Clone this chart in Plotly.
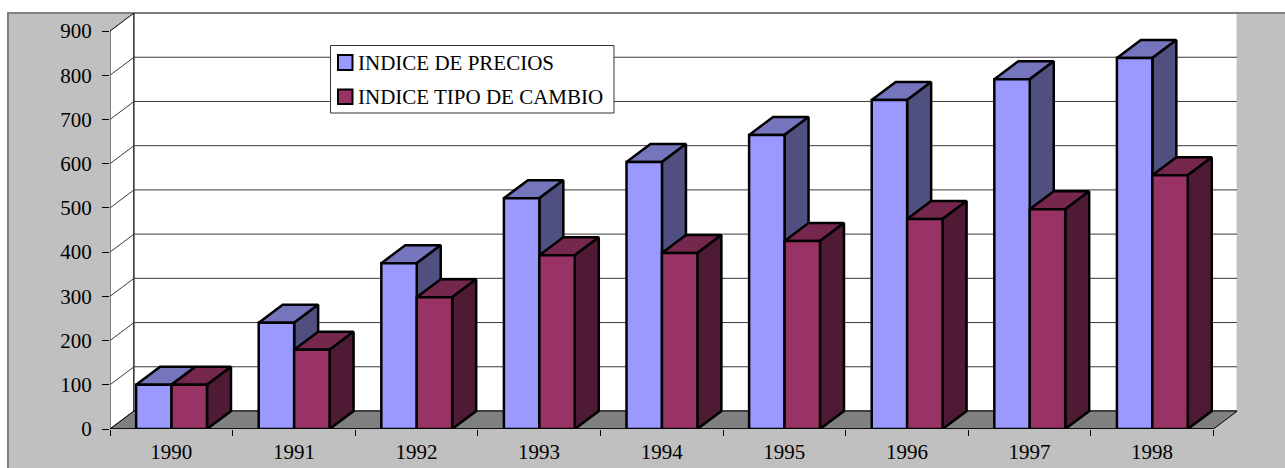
import plotly.graph_objects as go

years = ["1990","1991","1992","1993","1994","1995","1996","1997","1998"]
precios = [100,240,375,522,604,665,744,791,839]
cambio = [100,179,298,393,398,425,475,497,574]
names = ["INDICE DE PRECIOS","INDICE TIPO DE CAMBIO"]
yticks = [0,100,200,300,400,500,600,700,800,900]

FONT="Liberation Serif"
W,H=1285,468
L,R,T,B=110,48,13,39
UX=122.6; UY=0.4422
XMAX=(W-L-R)/UX; YMAX=(H-T-B)/UY
DX=24/UX; DY=18/UY
GAP=0.213; BW=0.289
N=len(years)
C1=("#9999FF","#7575BE","#4F4F80")
C2=("#993366","#75274E","#4E1A34")

fig=go.Figure()
def poly(xs,ys,fill=None,line="#000000",lw=1):
    fig.add_trace(go.Scatter(x=xs,y=ys,mode="lines",fill="toself" if fill else None,fillcolor=fill,
        line=dict(color=line,width=lw),showlegend=False,hoverinfo="skip",cliponaxis=False))

# walls and floor
top=yticks[-1]
poly([0,DX,DX,0,0],[0,DY,top+DY,top,0],"#FFFFFF","#000000",1)
poly([DX,N+DX,N+DX,DX,DX],[DY,DY,top+DY,top+DY,DY],"#FFFFFF","#000000",1)
poly([0,N,N+DX,DX,0],[0,0,DY,DY,0],"#808080","#000000",1)
for v in yticks[1:-1]:
    poly([0,DX,N+DX],[v,v+DY,v+DY],None,"#3A3A3A",1)
poly([0,N],[0,0],None,"#000000",1.5)

# sides and tops, back to front
for i in range(N):
    x0=i+GAP; x1=x0+BW; x2=x1+BW
    v1,v2=precios[i],cambio[i]
    poly([x0,x1,x1+DX,x0+DX,x0],[v1,v1,v1+DY,v1+DY,v1],C1[1],"#000000",2.5)
    poly([x1,x1+DX,x1+DX,x1,x1],[0,DY,v1+DY,v1,0],C1[2],"#000000",2.5)
    poly([x1,x2,x2+DX,x1+DX,x1],[v2,v2,v2+DY,v2+DY,v2],C2[1],"#000000",2.5)
    poly([x2,x2+DX,x2+DX,x2,x2],[0,DY,v2+DY,v2,0],C2[2],"#000000",2.5)

# front faces
for k,(vals,c,name) in enumerate(zip((precios,cambio),(C1,C2),names)):
    fig.add_trace(go.Bar(x=[i+GAP+BW*(k+0.5) for i in range(N)],y=vals,width=BW,name=name,
        marker=dict(color=c[0],line=dict(color="#000000",width=2.5)),
        xaxis="x2",yaxis="y2",showlegend=False,hoverinfo="skip"))

def px(x): return (x-L)/(W-L-R)
def py(y): return (H-B-y)/(H-T-B)
shapes=[
 dict(type="rect",xref="paper",yref="paper",x0=px(8),x1=px(W+5),y0=py(H+5),y1=py(13),
      fillcolor="#C0C0C0",line=dict(color="#808080",width=2),layer="below"),
 dict(type="rect",xref="paper",yref="paper",x0=px(330.5),x1=px(614),y0=py(113),y1=py(45.5),
      fillcolor="#FFFFFF",line=dict(color="#333333",width=1),layer="above"),
 dict(type="rect",xref="paper",yref="paper",x0=px(338),x1=px(352.5),y0=py(70),y1=py(55),
      fillcolor=C1[0],line=dict(color="#000000",width=2),layer="above"),
 dict(type="rect",xref="paper",yref="paper",x0=px(338),x1=px(352.5),y0=py(104),y1=py(89.5),
      fillcolor=C2[0],line=dict(color="#000000",width=2),layer="above"),
]
annotations=[
 dict(text=names[0],xref="paper",yref="paper",x=px(356),y=py(63),xanchor="left",yanchor="middle",showarrow=False,
      font=dict(family=FONT,size=21,color="#000000")),
 dict(text=names[1],xref="paper",yref="paper",x=px(356),y=py(97),xanchor="left",yanchor="middle",showarrow=False,
      font=dict(family=FONT,size=21,color="#000000")),
]
fig.update_layout(
    width=W,height=H,margin=dict(l=L,r=R,t=T,b=B,pad=0,autoexpand=False),autosize=False,
    paper_bgcolor="#FFFFFF",plot_bgcolor="rgba(0,0,0,0)",showlegend=False,barmode="overlay",
    font=dict(family=FONT,size=21,color="#000000"),
    shapes=shapes,annotations=annotations,
    xaxis=dict(range=[0,XMAX],tickmode="array",tickvals=[i+0.5 for i in range(N)],ticktext=years,automargin=False,
        ticks="",showgrid=False,zeroline=False,showline=False,ticklabelstandoff=8,
        minor=dict(tickmode="array",tickvals=list(range(N+1)),ticks="outside",ticklen=6,tickcolor="#000000",tickwidth=1,showgrid=False)),
    yaxis=dict(range=[0,YMAX],tickmode="array",tickvals=yticks,ticks="outside",ticklen=7,tickcolor="#000000",automargin=False,
        showgrid=False,zeroline=False,showline=False,ticklabelstandoff=6),
    xaxis2=dict(range=[0,XMAX],overlaying="x",visible=False),
    yaxis2=dict(range=[0,YMAX],overlaying="y",visible=False),
)
fig.write_html("out.html",post_script="document.body.style.margin='0';document.body.style.overflow='hidden';",config={"displayModeBar":False})
